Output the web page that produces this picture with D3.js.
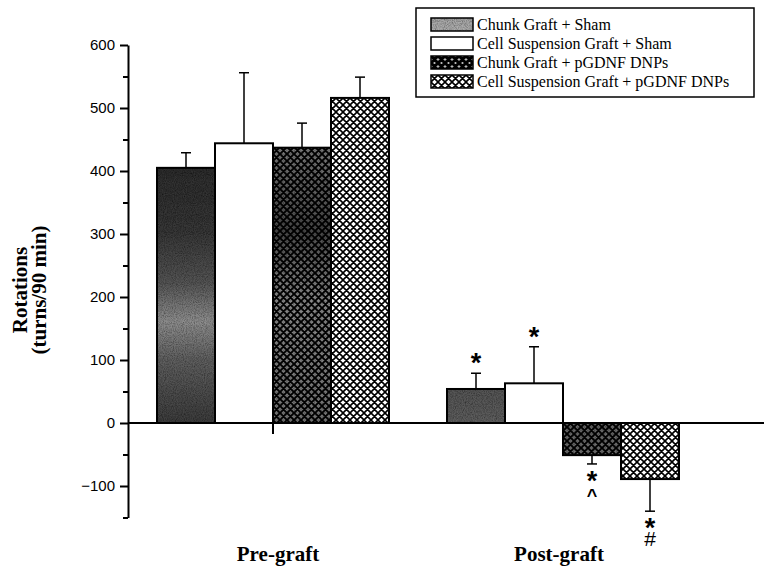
<!DOCTYPE html>
<html>
<head>
<meta charset="utf-8">
<script src="https://cdn.jsdelivr.net/npm/d3@7"></script>
<style>
  body { margin: 0; background: #fff; }
  svg { display: block; }
</style>
</head>
<body>
<svg id="chart" width="764" height="583"></svg>
<script>
// values
var groups = ["Pre-graft", "Post-graft"];
var series = ["Chunk Graft + Sham", "Cell Suspension Graft + Sham", "Chunk Graft + pGDNF DNPs", "Cell Suspension Graft + pGDNF DNPs"];
var preGraft = [405, 444, 437, 516];
var preGraftErr = [24, 112, 39, 33];
var postGraft = [54, 63, -51, -89];
var postGraftErr = [25, 58, 14, 51];
var postMarks = [["*"], ["*"], ["*", "^"], ["*", "#"]];
var majorTicks = [-100, 0, 100, 200, 300, 400, 500, 600];
var minorTicks = [-150, -50, 50, 150, 250, 350, 450, 550];

var svg = d3.select("#chart");
var defs = svg.append("defs");

var x0 = d3.scaleBand().domain(groups).range([128, 708]);
var x1 = d3.scaleBand().domain(series).range([-116, 116]);
var y = d3.scaleLinear().domain([-150, 600]).range([517.5, 45]);

// fills
function gradient(id, stops) {
  var g = defs.append("linearGradient").attr("id", id)
    .attr("x1", 0).attr("y1", 0).attr("x2", 0).attr("y2", 1);
  stops.forEach(function(s) {
    g.append("stop").attr("offset", s[0]).attr("stop-color", s[1]);
  });
}
gradient("grayPre", [[0, "#2e2e2e"], [0.25, "#383838"], [0.45, "#555"], [0.6, "#8e8e8e"], [0.75, "#606060"], [0.9, "#4a4a4a"], [1, "#3c3c3c"]]);
gradient("grayPost", [[0, "#555"], [1, "#5e5e5e"]]);
gradient("grayLegend", [[0, "#a4a4a4"], [1, "#b0b0b0"]]);
gradient("darkPre", [[0, "#7a7a7a"], [0.3, "#4a4a4a"], [0.55, "#8c8c8c"], [1, "#767676"]]);
gradient("darkPost", [[0, "#666"], [1, "#707070"]]);

var noise = defs.append("filter").attr("id", "noise").attr("x", 0).attr("y", 0).attr("width", 1).attr("height", 1);
noise.append("feTurbulence").attr("type", "fractalNoise").attr("baseFrequency", 0.9).attr("numOctaves", 2).attr("seed", 3).attr("result", "t");
noise.append("feColorMatrix").attr("in", "t").attr("type", "matrix")
  .attr("values", "0 0 0 0 0  0 0 0 0 0  0 0 0 0 0  1.2 0 0 0 -0.4").attr("result", "n");
noise.append("feComposite").attr("in", "n").attr("in2", "SourceGraphic").attr("operator", "in").attr("result", "nc");
var merge = noise.append("feMerge");
merge.append("feMergeNode").attr("in", "SourceGraphic");
merge.append("feMergeNode").attr("in", "nc");

function hatch(id, width) {
  var p = defs.append("pattern").attr("id", id).attr("patternUnits", "userSpaceOnUse")
    .attr("width", 7).attr("height", 7);
  p.append("path")
    .attr("d", "M0,0L7,7M7,0L0,7M-1,1L1,-1M6,8L8,6M-1,6L1,8M6,-1L8,1")
    .attr("stroke", "#000").attr("stroke-width", width).attr("fill", "none");
}
hatch("hatchDark", 1.9);
hatch("hatchLight", 1.6);
hatch("hatchHeavy", 3);

var baseFill = {
  "Pre-graft": ["url(#grayPre)", "#fff", "url(#darkPre)", "#fff"],
  "Post-graft": ["url(#grayPost)", "#fff", "url(#darkPost)", "#fff"]
};
var overlay = [null, null, "url(#hatchDark)", "url(#hatchLight)"];
var noisy = [true, false, true, false];

var rows = [];
groups.forEach(function(g, gi) {
  var vals = gi === 0 ? preGraft : postGraft;
  var errs = gi === 0 ? preGraftErr : postGraftErr;
  series.forEach(function(s, si) {
    rows.push({group: g, series: s, si: si, value: vals[si], err: errs[si],
      marks: gi === 1 ? postMarks[si] : []});
  });
});

function barX(d) { return x0(d.group) + x0.bandwidth() / 2 + x1(d.series); }
function barY(d) { return y(Math.max(0, d.value)); }
function barH(d) { return Math.abs(y(d.value) - y(0)); }

var bars = svg.append("g").selectAll("g").data(rows).join("g");

bars.append("rect")
  .attr("x", barX).attr("y", barY)
  .attr("width", x1.bandwidth()).attr("height", barH)
  .attr("fill", function(d) { return baseFill[d.group][d.si]; })
  .attr("filter", function(d) { return noisy[d.si] ? "url(#noise)" : null; });

bars.filter(function(d) { return overlay[d.si]; }).append("rect")
  .attr("x", barX).attr("y", barY)
  .attr("width", x1.bandwidth()).attr("height", barH)
  .attr("fill", function(d) { return overlay[d.si]; });

bars.append("rect")
  .attr("x", barX).attr("y", barY)
  .attr("width", x1.bandwidth()).attr("height", barH)
  .attr("fill", "none").attr("stroke", "#000").attr("stroke-width", 2);

// error bars, one-sided away from zero
function errEnd(d) { return d.value >= 0 ? d.value + d.err : d.value - d.err; }
function cx(d) { return barX(d) + x1.bandwidth() / 2; }

bars.append("line")
  .attr("x1", cx).attr("x2", cx)
  .attr("y1", function(d) { return y(d.value); })
  .attr("y2", function(d) { return y(errEnd(d)); })
  .attr("stroke", "#000").attr("stroke-width", 1.5);
bars.append("line")
  .attr("x1", function(d) { return cx(d) - 5; }).attr("x2", function(d) { return cx(d) + 5; })
  .attr("y1", function(d) { return y(errEnd(d)); })
  .attr("y2", function(d) { return y(errEnd(d)); })
  .attr("stroke", "#000").attr("stroke-width", 1.5);

// significance marks (one text per bar, stacked with tspans)
bars.filter(function(d) { return d.marks.length; }).each(function(d) {
  var end = y(errEnd(d));
  var t = d3.select(this).append("text")
    .attr("text-anchor", "middle")
    .attr("font-family", "Liberation Sans, Arial, sans-serif")
    .attr("font-weight", "bold");
  d.marks.forEach(function(m, mi) {
    var ts = t.append("tspan").attr("x", cx(d)).text(m);
    if (m === "*") {
      ts.attr("font-size", 27).attr("y", d.value >= 0 ? end - 1 : end + 26);
    } else if (m === "^") {
      ts.attr("font-size", 18).attr("y", end + 38);
    } else {
      ts.attr("font-size", 21).attr("font-weight", "normal").attr("y", end + 35);
    }
  });
});

// zero line + category ticks
svg.append("line")
  .attr("x1", 128).attr("x2", 764)
  .attr("y1", y(0)).attr("y2", y(0))
  .attr("stroke", "#000").attr("stroke-width", 2);

var xAxis = svg.append("g")
  .attr("transform", "translate(0," + y(0) + ")")
  .call(d3.axisBottom(x0).tickSize(11).tickSizeOuter(0).tickFormat(""));
xAxis.select(".domain").remove();
xAxis.selectAll("line").attr("stroke-width", 2);

groups.forEach(function(g, gi) {
  svg.append("text")
    .attr("x", x0(g) + x0.bandwidth() / 2 + (gi === 0 ? 5 : -4))
    .attr("y", 561)
    .attr("text-anchor", "middle")
    .attr("font-family", "Liberation Serif, Times New Roman, serif")
    .attr("font-weight", "bold")
    .attr("font-size", 21)
    .text(g);
});

// y axis
var yAxis = svg.append("g")
  .attr("transform", "translate(128,0)")
  .call(d3.axisLeft(y).tickValues(majorTicks).tickSize(8).tickSizeOuter(0).tickPadding(5));
yAxis.select(".domain").attr("stroke-width", 2);
yAxis.selectAll(".tick line").attr("stroke-width", 2);
yAxis.selectAll("text")
  .attr("font-family", "Liberation Sans, Arial, sans-serif")
  .attr("font-size", 15)
  .attr("fill", "#000");

var yMinor = svg.append("g")
  .attr("transform", "translate(128,0)")
  .call(d3.axisLeft(y).tickValues(minorTicks).tickSize(5).tickSizeOuter(0).tickFormat(""));
yMinor.select(".domain").remove();
yMinor.selectAll("line").attr("stroke-width", 2);

var title = svg.append("text")
  .attr("transform", "translate(0,290) rotate(-90)")
  .attr("text-anchor", "middle")
  .attr("font-family", "Liberation Serif, Times New Roman, serif")
  .attr("font-weight", "bold")
  .attr("font-size", 21);
title.append("tspan").attr("x", 0).attr("y", 27).text("Rotations");
title.append("tspan").attr("x", 0).attr("y", 46).text("(turns/90 min)");

// legend
var legend = svg.append("g").attr("transform", "translate(416,8)");
legend.append("rect")
  .attr("width", 338).attr("height", 89)
  .attr("fill", "#fff").attr("stroke", "#000").attr("stroke-width", 1.5);

var legendFill = ["url(#grayLegend)", "#fff", "#b8b8b8", "#fff"];
var legendOverlay = [null, null, "url(#hatchHeavy)", "url(#hatchLight)"];
var item = legend.selectAll(".item").data(series).join("g")
  .attr("class", "item")
  .attr("transform", function(d, i) { return "translate(15," + (10 + i * 19) + ")"; });

item.append("rect")
  .attr("width", 42).attr("height", 13)
  .attr("fill", function(d, i) { return legendFill[i]; })
  .attr("filter", function(d, i) { return i === 0 ? "url(#noise)" : null; });
item.filter(function(d, i) { return legendOverlay[i]; }).append("rect")
  .attr("width", 42).attr("height", 13)
  .attr("fill", function(d) { return legendOverlay[series.indexOf(d)]; });
item.append("rect")
  .attr("width", 42).attr("height", 13)
  .attr("fill", "none").attr("stroke", "#000").attr("stroke-width", 1.5);
item.append("text")
  .attr("x", 46).attr("y", 11.5)
  .attr("font-family", "Liberation Serif, Times New Roman, serif")
  .attr("font-size", 16)
  .text(function(d) { return d; });
</script>
</body>
</html>
